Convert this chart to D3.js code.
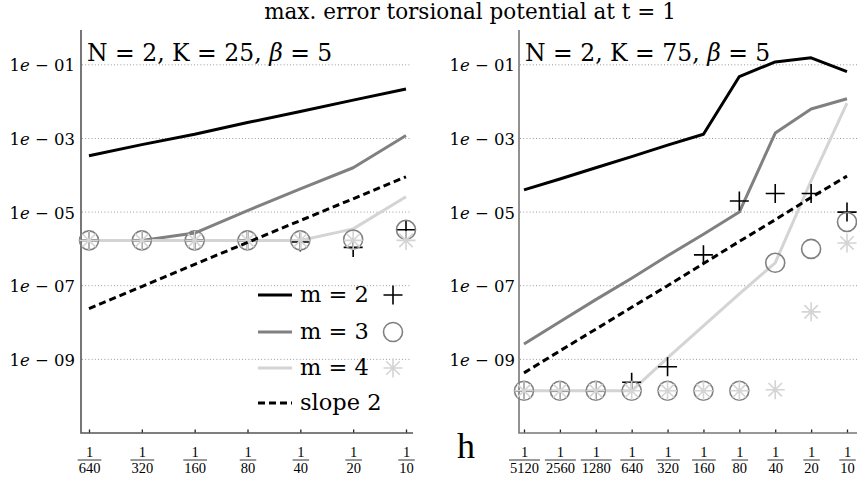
<!DOCTYPE html>
<html>
<head>
<meta charset="utf-8">
<script src="https://cdn.jsdelivr.net/npm/d3@7"></script>
<style>
  body { margin: 0; background: #fff; }
  svg text { fill: #000; }
</style>
</head>
<body>
<div id="container"></div>
<script>
/**
 * CONSTANTS AND DATA
 * */
const width = 857, height = 484;
const serifWide = "DejaVu Serif", serifNarrow = "Liberation Serif";

// mesh sizes h
const hLeft = [1/640, 1/320, 1/160, 1/80, 1/40, 1/20, 1/10];
const hLeftDen = ["640", "320", "160", "80", "40", "20", "10"];
const hRight = [1/5120, 1/2560, 1/1280, 1/640, 1/320, 1/160, 1/80, 1/40, 1/20, 1/10];
const hRightDen = ["5120", "2560", "1280", "640", "320", "160", "80", "40", "20", "10"];

// left panel: N = 2, K = 25, beta = 5
const leftM2 = [3.4e-4, 6.8e-4, 1.3e-3, 2.7e-3, 5.4e-3, 1.1e-2, 2.2e-2];
const leftM3 = [1.7e-6, 1.7e-6, 2.7e-6, 1.1e-5, 4.3e-5, 1.6e-4, 1.2e-3];
const leftM4 = [1.7e-6, 1.7e-6, 1.7e-6, 1.7e-6, 1.7e-6, 3.5e-6, 2.6e-5];
const leftSlope = [2.4e-8, 9.5e-8, 3.8e-7, 1.5e-6, 5.9e-6, 2.3e-5, 9.1e-5];
const leftPlus = [1.7e-6, 1.7e-6, 1.7e-6, 1.7e-6, 1.55e-6, 1.1e-6, 3.3e-6];
const leftCircle = [1.7e-6, 1.7e-6, 1.7e-6, 1.7e-6, 1.7e-6, 1.8e-6, 3.3e-6];
const leftStar = [1.7e-6, 1.7e-6, 1.7e-6, 1.7e-6, 1.7e-6, 1.7e-6, 1.7e-6];

// right panel: N = 2, K = 75, beta = 5
const rightM2 = [4.0e-5, 7.9e-5, 1.6e-4, 3.2e-4, 6.6e-4, 1.3e-3, 4.8e-2, 1.2e-1, 1.55e-1, 6.5e-2];
const rightM3 = [2.6e-9, 1.05e-8, 4.2e-8, 1.6e-7, 6.5e-7, 2.5e-6, 1.0e-5, 1.4e-3, 6.3e-3, 1.2e-2];
const rightM4 = [1.4e-10, 1.4e-10, 1.4e-10, 1.4e-10, 1.1e-9, 8.1e-9, 6.0e-8, 4.2e-7, 7.1e-5, 9.1e-3];
const rightSlope = [4.3e-10, 1.7e-9, 6.6e-9, 2.6e-8, 1.0e-7, 4.0e-7, 1.6e-6, 6.2e-6, 2.5e-5, 9.5e-5];
const rightPlus = [1.4e-10, 1.4e-10, 1.4e-10, 2.4e-10, 6.3e-10, 6.9e-7, 2.0e-5, 3.2e-5, 3.2e-5, 1.0e-5];
const rightCircle = [1.4e-10, 1.4e-10, 1.4e-10, 1.4e-10, 1.4e-10, 1.4e-10, 1.4e-10, 4.2e-7, 1.0e-6, 5.4e-6];
const rightStar = [1.4e-10, 1.4e-10, 1.4e-10, 1.4e-10, 1.4e-10, 1.4e-10, 1.4e-10, 1.5e-10, 1.95e-8, 1.45e-6];

const yTicks = [1e-1, 1e-3, 1e-5, 1e-7, 1e-9];
const yTickExp = ["01", "03", "05", "07", "09"];

const colM2 = "#000000", colM3 = "#808080", colM4 = "#d4d4d4";

const svg = d3.select("#container")
  .append("svg")
  .attr("width", width)
  .attr("height", height)
  .style("font-family", serifWide);

const y = d3.scaleLog().domain([1e-11, 1]).range([433, 28]);

// marker shapes
const plusPath = "M-9.5,0H9.5M0,-9.5V9.5";
const starPath = "M-9.5,0H9.5M0,-9.5V9.5M-6.7,-6.7L6.7,6.7M-6.7,6.7L6.7,-6.7";

function drawPanel(cfg) {
  const g = svg.append("g");
  const x = d3.scaleLog().base(2).domain([cfg.h[0], cfg.h[cfg.h.length - 1]]).range(cfg.xr);

  // grid
  g.selectAll(".grid")
    .data(yTicks)
    .join("line")
    .attr("x1", cfg.left + 1).attr("x2", cfg.gridEnd)
    .attr("y1", d => y(d)).attr("y2", d => y(d))
    .attr("stroke", "#9a9a9a").attr("stroke-width", 1)
    .attr("stroke-dasharray", "1,2.2");

  // y tick labels
  const yAxis = d3.axisLeft(y).tickValues(yTicks).tickSize(0).tickPadding(6).tickFormat("");
  const ya = g.append("g").attr("transform", `translate(${cfg.left},0)`).call(yAxis);
  ya.select(".domain").remove();
  ya.selectAll(".tick").each(function (d, i) {
    const t = d3.select(this).append("text")
      .attr("x", cfg.labelEnd - cfg.left).attr("y", 6)
      .attr("text-anchor", "end")
      .attr("font-size", 16.5)
      .style("font-family", serifWide)
      .attr("fill", "#000");
    t.append("tspan").text("1");
    t.append("tspan").attr("font-style", "italic").text("e");
    t.append("tspan").text(" \u2212 " + yTickExp[i]);
  });

  // bottom axis ticks + fraction labels
  const xAxis = d3.axisBottom(x).tickValues(cfg.h).tickSize(-3.5).tickFormat("");
  const xa = g.append("g").attr("transform", "translate(0,433)").call(xAxis);
  xa.select(".domain").remove();
  xa.selectAll(".tick line").attr("stroke", "#222").attr("stroke-width", 1.3);
  xa.selectAll(".tick").each(function (d, i) {
    const tk = d3.select(this);
    tk.append("text").attr("x", 0).attr("y", 24).attr("text-anchor", "middle")
      .attr("font-size", 14.5).style("font-family", serifNarrow).attr("fill", "#000").text("1");
    const den = tk.append("text").attr("x", 0).attr("y", 40).attr("text-anchor", "middle")
      .attr("font-size", 14.5).style("font-family", serifNarrow).attr("fill", "#000").text(cfg.den[i]);
    const w = den.node().getComputedTextLength() + 2;
    tk.append("line").attr("x1", -w / 2).attr("x2", w / 2).attr("y1", 27).attr("y2", 27)
      .attr("stroke", "#000").attr("stroke-width", 0.8);
  });

  // axes lines
  g.append("path")
    .attr("d", `M${cfg.left},30V433H${cfg.right}`)
    .attr("fill", "none").attr("stroke", cfg.axisCol).attr("stroke-width", 1.6);

  const line = d3.line().x((d, i) => x(cfg.h[i])).y(d => y(d));

  [[cfg.m2, colM2], [cfg.m3, colM3], [cfg.m4, colM4]].forEach(([vals, c]) => {
    g.append("path").datum(vals).attr("d", line)
      .attr("fill", "none").attr("stroke", c).attr("stroke-width", 3)
      .attr("stroke-linejoin", "round");
  });

  // markers
  g.selectAll(".plus").data(cfg.plus).join("path")
    .attr("transform", (d, i) => `translate(${x(cfg.h[i])},${y(d)})`)
    .attr("d", plusPath).attr("stroke", colM2).attr("stroke-width", 1.6).attr("fill", "none");
  g.selectAll(".circ").data(cfg.circle).join("circle")
    .attr("cx", (d, i) => x(cfg.h[i])).attr("cy", d => y(d)).attr("r", 9.5)
    .attr("stroke", colM3).attr("stroke-width", 1.6).attr("fill", "none");
  g.selectAll(".star").data(cfg.star).join("path")
    .attr("transform", (d, i) => `translate(${x(cfg.h[i])},${y(d)})`)
    .attr("d", starPath).attr("stroke", colM4).attr("stroke-width", 1.6).attr("fill", "none");

  // slope 2 reference
  g.append("path").datum(cfg.slope).attr("d", line)
    .attr("fill", "none").attr("stroke", "#000").attr("stroke-width", 3)
    .attr("stroke-dasharray", "7,4");

  // annotation
  const ann = g.append("text").attr("x", cfg.left + 6).attr("y", 61)
    .attr("font-size", 23.5).style("font-family", serifWide);
  ann.append("tspan").text(`N = 2, K = ${cfg.K}, `);
  ann.append("tspan").attr("font-style", "italic").text("\u03b2");
  ann.append("tspan").text(" = 5");
}

drawPanel({
  h: hLeft, den: hLeftDen, xr: [89, 406], left: 81, right: 413, gridEnd: 411, labelEnd: 75,
  axisCol: "#555", K: 25,
  m2: leftM2, m3: leftM3, m4: leftM4, slope: leftSlope,
  plus: leftPlus, circle: leftCircle, star: leftStar
});

drawPanel({
  h: hRight, den: hRightDen, xr: [524, 847], left: 519, right: 857, gridEnd: 857, labelEnd: 515,
  axisCol: "#777", K: 75,
  m2: rightM2, m3: rightM3, m4: rightM4, slope: rightSlope,
  plus: rightPlus, circle: rightCircle, star: rightStar
});

// title
svg.append("text").attr("x", 470).attr("y", 19).attr("text-anchor", "middle")
  .attr("font-size", 21.5).style("font-family", serifWide)
  .text("max. error torsional potential at t = 1");

// h label
svg.append("text").attr("x", 457).attr("y", 458).attr("font-size", 36)
  .style("font-family", serifNarrow).text("h");

// legend (left panel)
const legendItems = [
  { label: "m = 2", col: colM2, dash: null, marker: "plus" },
  { label: "m = 3", col: colM3, dash: null, marker: "circle" },
  { label: "m = 4", col: colM4, dash: null, marker: "star" },
  { label: "slope 2", col: "#000", dash: "7,4", marker: null }
];
const legendY = [295, 332, 368, 403];
const lg = svg.append("g");
legendItems.forEach((d, i) => {
  const yy = legendY[i];
  lg.append("line").attr("x1", 258).attr("x2", 292).attr("y1", yy).attr("y2", yy)
    .attr("stroke", d.col).attr("stroke-width", 3)
    .attr("stroke-dasharray", d.dash);
  lg.append("text").attr("x", 300).attr("y", yy + 7).attr("font-size", 22.5)
    .style("font-family", serifWide).text(d.label);
  if (d.marker === "plus") {
    lg.append("path").attr("transform", `translate(393,${yy})`).attr("d", plusPath)
      .attr("stroke", colM2).attr("stroke-width", 1.6);
  } else if (d.marker === "circle") {
    lg.append("circle").attr("cx", 393).attr("cy", yy).attr("r", 9.5)
      .attr("stroke", colM3).attr("stroke-width", 1.6).attr("fill", "none");
  } else if (d.marker === "star") {
    lg.append("path").attr("transform", `translate(393,${yy})`).attr("d", starPath)
      .attr("stroke", colM4).attr("stroke-width", 1.6);
  }
});
</script>
</body>
</html>
